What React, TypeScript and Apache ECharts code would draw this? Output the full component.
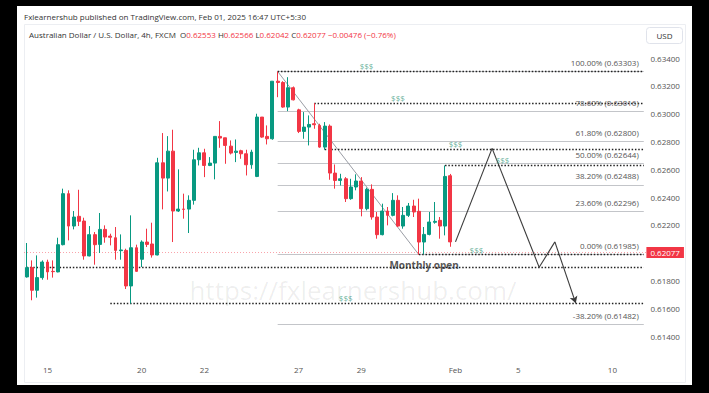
import React, { useEffect, useRef } from 'react';
import * as echarts from 'echarts';

const FONT = '"Open Sans", "Noto Sans", sans-serif';

// 4h candles, [open, high, low, close]
const ohlc: [number, number, number, number][] = [
  [0.61825, 0.62069, 0.61820, 0.61892],
  [0.61892, 0.61944, 0.61657, 0.61729],
  [0.61729, 0.61980, 0.61676, 0.61820],
  [0.61820, 0.61944, 0.61805, 0.61932],
  [0.61932, 0.61949, 0.61805, 0.61861],
  [0.61865, 0.61944, 0.61820, 0.61863],
  [0.61861, 0.62107, 0.61858, 0.62057],
  [0.62057, 0.62460, 0.62052, 0.62424],
  [0.62424, 0.62448, 0.62088, 0.62191],
  [0.62191, 0.62299, 0.62167, 0.62256],
  [0.62261, 0.62452, 0.62191, 0.62225],
  [0.62227, 0.62251, 0.61949, 0.61976],
  [0.61976, 0.62191, 0.61973, 0.62129],
  [0.62129, 0.62148, 0.61913, 0.62057],
  [0.62059, 0.62285, 0.61997, 0.62167],
  [0.62167, 0.62196, 0.62071, 0.62112],
  [0.62119, 0.62136, 0.62052, 0.62110],
  [0.62107, 0.62184, 0.61949, 0.62016],
  [0.62014, 0.62131, 0.61949, 0.62019],
  [0.62016, 0.62028, 0.61738, 0.61760],
  [0.61760, 0.62268, 0.61633, 0.62035],
  [0.62035, 0.62057, 0.61861, 0.61865],
  [0.61952, 0.62088, 0.61896, 0.62076],
  [0.62076, 0.62172, 0.62040, 0.62059],
  [0.62062, 0.62215, 0.61964, 0.61983],
  [0.61983, 0.62682, 0.61980, 0.62646],
  [0.62646, 0.62860, 0.62311, 0.62536],
  [0.62536, 0.62838, 0.62440, 0.62730],
  [0.62730, 0.62884, 0.62076, 0.62299],
  [0.62299, 0.62599, 0.62292, 0.62313],
  [0.62313, 0.62424, 0.62244, 0.62311],
  [0.62313, 0.62412, 0.62141, 0.62376],
  [0.62376, 0.62740, 0.62345, 0.62668],
  [0.62668, 0.62754, 0.62627, 0.62718],
  [0.62718, 0.62747, 0.62543, 0.62627],
  [0.62627, 0.62687, 0.62622, 0.62644],
  [0.62644, 0.62836, 0.62527, 0.62836],
  [0.62836, 0.62946, 0.62754, 0.62824],
  [0.62826, 0.62826, 0.62639, 0.62771],
  [0.62766, 0.62807, 0.62706, 0.62716],
  [0.62721, 0.62814, 0.62651, 0.62730],
  [0.62733, 0.62740, 0.62675, 0.62711],
  [0.62711, 0.62740, 0.62555, 0.62632],
  [0.62632, 0.62740, 0.62603, 0.62723],
  [0.62548, 0.62999, 0.62543, 0.62975],
  [0.62975, 0.62975, 0.62826, 0.62831],
  [0.62836, 0.62915, 0.62778, 0.62819],
  [0.62819, 0.63233, 0.62812, 0.63233],
  [0.63233, 0.63303, 0.63118, 0.63224],
  [0.63224, 0.63233, 0.63042, 0.63047],
  [0.63047, 0.63262, 0.63018, 0.63186],
  [0.63186, 0.63195, 0.63095, 0.63099],
  [0.63027, 0.63035, 0.62860, 0.62872],
  [0.62872, 0.63011, 0.62819, 0.62903],
  [0.62903, 0.62987, 0.62771, 0.62922],
  [0.62927, 0.63076, 0.62891, 0.62920],
  [0.62915, 0.62927, 0.62754, 0.62759],
  [0.62759, 0.62939, 0.62740, 0.62910],
  [0.62910, 0.62922, 0.62524, 0.62572],
  [0.62572, 0.62634, 0.62460, 0.62519],
  [0.62519, 0.62567, 0.62483, 0.62531],
  [0.62531, 0.62543, 0.62364, 0.62388],
  [0.62388, 0.62531, 0.62380, 0.62472],
  [0.62472, 0.62563, 0.62448, 0.62515],
  [0.62515, 0.62543, 0.62261, 0.62316],
  [0.62316, 0.62467, 0.62304, 0.62455],
  [0.62455, 0.62491, 0.62237, 0.62256],
  [0.62256, 0.62292, 0.62100, 0.62129],
  [0.62129, 0.62352, 0.62124, 0.62299],
  [0.62299, 0.62328, 0.62196, 0.62268],
  [0.62268, 0.62428, 0.62261, 0.62376],
  [0.62376, 0.62412, 0.62184, 0.62191],
  [0.62191, 0.62328, 0.62172, 0.62268],
  [0.62268, 0.62357, 0.62256, 0.62335],
  [0.62335, 0.62380, 0.62256, 0.62292],
  [0.62297, 0.62388, 0.61985, 0.62076],
  [0.62076, 0.62184, 0.61988, 0.62131],
  [0.62131, 0.62292, 0.62124, 0.62220],
  [0.62218, 0.62364, 0.62208, 0.62225],
  [0.62232, 0.62256, 0.62100, 0.62191],
  [0.62191, 0.62627, 0.62124, 0.62548],
  [0.62553, 0.62566, 0.62042, 0.62077],
];

// total slots on the time axis (history + empty future space)
const AXIS_SLOTS = 119;

// date tick labels: [slot index, label]
const xTicks: [number, string][] = [
  [4, '15'], [22, '20'], [34, '22'], [52, '27'], [64, '29'], [82, 'Feb'], [94, '5'], [112, '10'],
];

// Fibonacci retracement (anchored high → low)
const fibHigh = { idx: 48, price: 0.63303 };
const fibLow = { idx: 75, price: 0.61985 };
const fibLevels: { pct: string; price: number }[] = [
  { pct: '100.00%', price: 0.63303 },
  { pct: '78.60%', price: 0.63016 },
  { pct: '61.80%', price: 0.62800 },
  { pct: '50.00%', price: 0.62644 },
  { pct: '38.20%', price: 0.62488 },
  { pct: '23.60%', price: 0.62296 },
  { pct: '0.00%', price: 0.61985 },
  { pct: '-38.20%', price: 0.61482 },
];

// dotted liquidity levels: start slot + price
const liquidityLines: { start: number; price: number }[] = [
  { start: 48, price: 0.63303 },
  { start: 55, price: 0.63076 },
  { start: 57, price: 0.62747 },
  { start: 80, price: 0.62627 },
  { start: 75, price: 0.61985 },
  { start: 0, price: 0.61892 },
  { start: 16, price: 0.61635 },
];
const liquidityTags: { idx: number; price: number }[] = [
  { idx: 65, price: 0.63303 },
  { idx: 71, price: 0.63076 },
  { idx: 82, price: 0.62747 },
  { idx: 91, price: 0.62627 },
  { idx: 86, price: 0.61985 },
  { idx: 61, price: 0.61635 },
];
const monthlyOpen = { idx: 76, price: 0.61892, text: 'Monthly open' };

// projected path
const projection: [number, number][] = [
  [82, 0.62077], [89, 0.62750], [98, 0.61894], [101, 0.62077], [105, 0.61635],
];

const headerLine1 = 'Fxlearnershub published on TradingView.com, Feb 01, 2025 16:47 UTC+5:30';
const symbolName = 'Australian Dollar / U.S. Dollar, 4h, FXCM';

const UP = '#089981';
const DOWN = '#f23645';

export default function App() {
  const ref = useRef<HTMLDivElement>(null);

  useEffect(() => {
    if (!ref.current) return;
    const chart = echarts.init(ref.current, undefined, { renderer: 'svg' });
    const categories = Array.from({ length: AXIS_SLOTS }, (_, i) => String(i));
    const tickMap = new Map(xTicks);
    const last = ohlc[ohlc.length - 1];
    const lastClose = last[3];
    const chg = last[3] - last[0];
    const chgPct = (chg / last[0]) * 100;
    const minus = (v: number) => (v < 0 ? '\u2212' : '+') + Math.abs(v).toFixed(5);
    const endIdx = AXIS_SLOTS - 1;

    const seg = (a: [number, number], b: [number, number]) => [{ coord: a }, { coord: b }];

    const option: any = {
      animation: false,
      backgroundColor: '#000',
      textStyle: { fontFamily: FONT },
      grid: { left: 24, right: 62.6, top: 30.2, bottom: 29.2 },
      xAxis: {
        type: 'category',
        data: categories,
        boundaryGap: true,
        axisLine: { show: false },
        axisTick: { show: false },
        splitLine: { show: false },
        axisLabel: {
          interval: 0,
          margin: 2,
          fontSize: 8,
          color: '#555',
          fontFamily: FONT,
          formatter: (_v: string, i: number) => tickMap.get(i) ?? '',
        },
      },
      yAxis: {
        type: 'value',
        position: 'right',
        min: 0.612,
        max: 0.636,
        interval: 0.002,
        scale: true,
        axisLine: { show: false },
        axisTick: { show: false },
        splitLine: { show: false },
        axisLabel: {
          margin: 4,
          fontSize: 8,
          color: '#555',
          fontFamily: FONT,
          formatter: (v: number) => (v < 0.6139 || v > 0.6341 ? '' : v.toFixed(5)),
        },
      },
      graphic: [
        { type: 'rect', z: -20, silent: true, shape: { x: 17, y: 6, width: 675, height: 379 }, style: { fill: '#fff' } },
        { type: 'rect', z: -19, silent: true, shape: { x: 24.5, y: 24.5, width: 661, height: 358 }, style: { fill: 'none', stroke: '#eceef2', lineWidth: 1 } },
        {
          type: 'text', z: -15, silent: true, x: 353, y: 290,
          style: { text: 'https://fxlearnershub.com/', fontSize: 26, fontFamily: FONT, fill: 'rgba(0,0,0,0.07)', align: 'center', verticalAlign: 'middle' },
        },
        {
          type: 'text', z: 50, x: 24, y: 16,
          style: { text: headerLine1, fontSize: 8, fontFamily: FONT, fill: '#333', verticalAlign: 'middle' },
        },
        {
          type: 'text', z: 50, x: 29, y: 34,
          style: {
            text: `${symbolName}  O{r|${last[0].toFixed(5)}} H{r|${last[1].toFixed(5)}} L{r|${last[2].toFixed(5)}} C{r|${last[3].toFixed(5)}} {r|${minus(chg)} (${chgPct < 0 ? '\u2212' : '+'}${Math.abs(chgPct).toFixed(2)}%)}`,
            fontSize: 8, fontFamily: FONT, fill: '#333', verticalAlign: 'middle',
            rich: { r: { fill: DOWN, fontSize: 8, fontFamily: FONT } },
          },
        },
        { type: 'rect', z: 50, shape: { x: 646.5, y: 27.5, width: 36, height: 16, r: 3 }, style: { fill: '#fff', stroke: '#e0e3eb', lineWidth: 1 } },
        { type: 'text', z: 51, x: 664.5, y: 35.5, style: { text: 'USD', fontSize: 8, fontFamily: FONT, fill: '#333', align: 'center', verticalAlign: 'middle' } },
      ],
      series: [
        {
          name: 'fib',
          type: 'line',
          data: [],
          z: 1,
          markLine: {
            silent: true,
            symbol: ['none', 'none'],
            lineStyle: { color: '#c3c5c9', width: 1, type: 'solid' },
            label: {
              show: true,
              position: 'insideEndTop',
              distance: 5,
              fontSize: 8,
              fontFamily: FONT,
              color: '#555',
            },
            data: fibLevels.map((f) => [
              { coord: [fibHigh.idx, f.price], label: { formatter: `${f.pct} (${f.price.toFixed(5)})` } },
              { coord: [endIdx, f.price] },
            ]),
          },
        },
        {
          name: 'trend',
          type: 'line',
          data: [],
          z: 1,
          markLine: {
            silent: true,
            symbol: ['none', 'none'],
            label: { show: false },
            lineStyle: { color: '#9a9da5', width: 1, type: 'solid' },
            data: [seg([fibHigh.idx, fibHigh.price], [fibLow.idx, fibLow.price])],
          },
        },
        {
          name: 'current',
          type: 'line',
          data: [],
          z: 1,
          markLine: {
            silent: true,
            symbol: ['none', 'none'],
            lineStyle: { color: 'rgba(242,54,69,0.45)', width: 1, type: [1, 2] },
            label: {
              show: true,
              position: 'end',
              distance: 0,
              formatter: lastClose.toFixed(5),
              backgroundColor: DOWN,
              color: '#fff',
              fontSize: 8,
              fontFamily: FONT,
              padding: [2, 4, 1, 4],
            },
            data: [{ yAxis: lastClose }],
          },
        },
        {
          name: 'liquidity',
          type: 'line',
          data: [],
          z: 3,
          markLine: {
            silent: true,
            symbol: ['none', 'none'],
            label: { show: false },
            lineStyle: { color: '#222', width: 1.3, type: [1.5, 1.8] },
            data: liquidityLines.map((l) => seg([l.start, l.price], [endIdx, l.price])),
          },
        },
        {
          name: 'AUDUSD',
          type: 'candlestick',
          z: 5,
          barWidth: 3.4,
          data: ohlc.map(([o, h, l, c]) => [o, c, l, h]),
          itemStyle: { color: UP, color0: DOWN, borderColor: UP, borderColor0: DOWN, borderWidth: 1 },
        },
        {
          name: 'projection',
          type: 'line',
          data: [],
          z: 6,
          markLine: {
            silent: true,
            symbol: ['none', 'none'],
            label: { show: false },
            lineStyle: { color: '#3a3a3a', width: 1.1, type: 'solid' },
            data: projection.slice(0, -2).map((p, i) => seg(p, projection[i + 1])),
          },
        },
        {
          name: 'projectionEnd',
          type: 'line',
          data: [],
          z: 6,
          markLine: {
            silent: true,
            symbol: ['none', 'arrow'],
            symbolSize: [6, 7],
            label: { show: false },
            lineStyle: { color: '#3a3a3a', width: 1.1, type: 'solid' },
            data: [seg(projection[projection.length - 2], projection[projection.length - 1])],
          },
        },
        {
          name: 'tags',
          type: 'scatter',
          z: 7,
          symbol: 'circle',
          symbolSize: 1,
          itemStyle: { color: 'rgba(0,0,0,0)' },
          label: {
            show: true,
            position: 'top',
            distance: 1,
            formatter: () => '$$$',
            color: '#3f9e84',
            fontSize: 8,
            fontFamily: FONT,
          },
          data: liquidityTags.map((t) => [t.idx, t.price]),
        },
        {
          name: 'monthly',
          type: 'scatter',
          z: 7,
          symbol: 'circle',
          symbolSize: 1,
          itemStyle: { color: 'rgba(0,0,0,0)' },
          label: {
            show: true,
            position: 'inside',
            offset: [0, -3],
            formatter: () => monthlyOpen.text,
            color: '#2a2a2a',
            fontSize: 10,
            fontWeight: 'bold',
            fontFamily: FONT,
          },
          data: [[monthlyOpen.idx, monthlyOpen.price]],
        },
      ],
    };
    chart.setOption(option);
    return () => chart.dispose();
  }, []);

  return (
    <div
      ref={ref}
      style={{ position: 'fixed', left: 0, top: 0, width: 709, height: 393 }}
    />
  );
}
